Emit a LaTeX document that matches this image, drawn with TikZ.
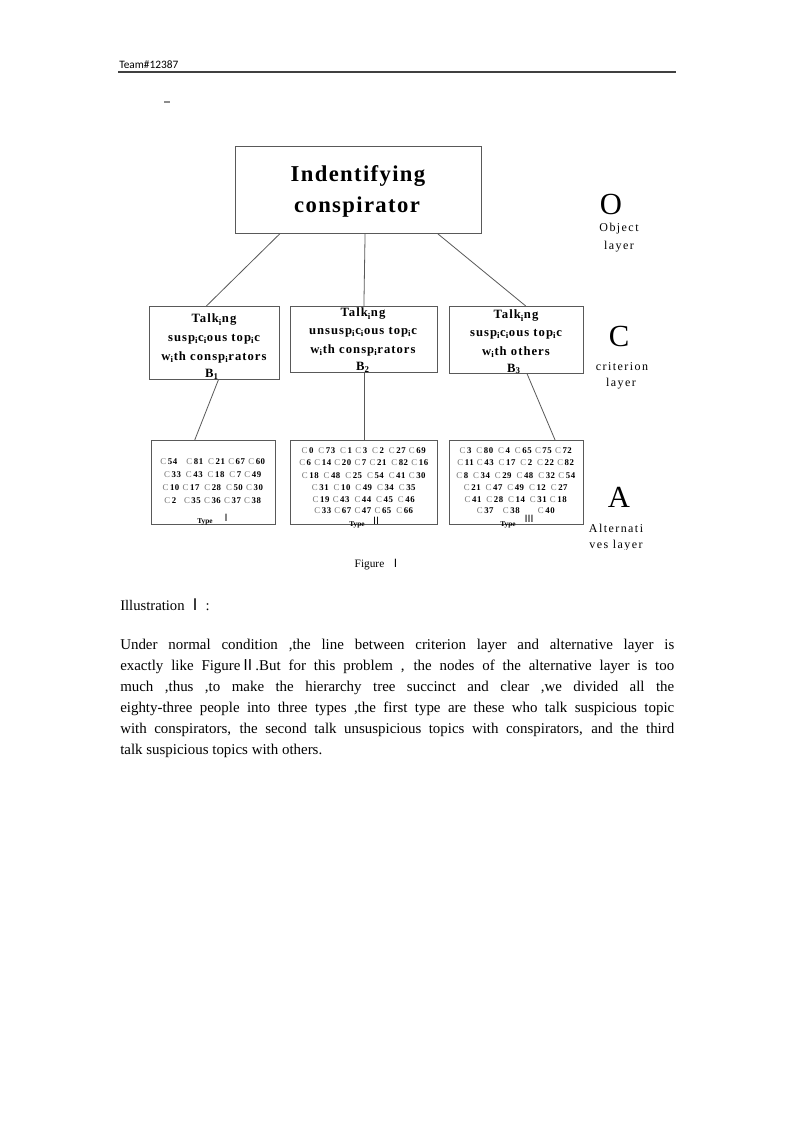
\documentclass[tikz,border=0pt]{standalone}
\usepackage{fontspec}
\setmainfont{Liberation Serif}
\newfontfamily\cjk{Noto Sans CJK SC}
\newfontfamily\hdrfont{Carlito}
\newfontfamily\spfont{Liberation Serif}[LetterSpace=12]
\newfontfamily\bfsp{Liberation Serif Bold}[LetterSpace=8]
\newfontfamily\ttlfont{Liberation Serif Bold}[LetterSpace=6]
\newfontfamily\cfont{Liberation Serif}[LetterSpace=6]
\newcommand\sbi{\textsubscript{i}}
\newcommand\cn[1]{{\color{black!55}C}\kern1.2pt\textbf{#1}}
\begin{document}
\begin{tikzpicture}[x=0.75pt,y=-0.75pt,
  box/.style={draw=black!65, line width=0.6pt, inner sep=0, anchor=north west},
  conn/.style={draw=black!65, line width=0.6pt},
  lbl/.style={inner sep=0, anchor=center},
  btxt/.style={inner sep=0, anchor=center, font=\bfsp\fontsize{9.5}{10}\selectfont},
  crow/.style={inner sep=0, anchor=center, font=\cfont\fontsize{6.6}{7}\selectfont},
  typ/.style={inner sep=0, anchor=center, font=\bfseries\fontsize{5.5}{6}\selectfont},
  typn/.style={inner sep=0, anchor=center, font=\cjk\fontsize{7.5}{8}\selectfont},
  layer/.style={inner sep=0, anchor=center, font=\spfont\fontsize{9}{10}\selectfont},
  big/.style={inner sep=0, anchor=center, font=\fontsize{23}{24}\selectfont}]
\fill[white] (0,0) rectangle (794,1123);
\useasboundingbox (0,0) rectangle (794,1123);

% header
\node[inner sep=0, anchor=west, font=\hdrfont\fontsize{8.5}{9}\selectfont] (hdr) at (119,65) {Team\#12387};
\coordinate (hl) at (118,72);
\coordinate (hr) at (676,72);
\draw[black!75, line width=1pt] (hl) -- (hr);
\coordinate (dl) at (164,102);
\coordinate (dr) at (170,102);
\draw[black!45, line width=0.8pt] (dl) -- (dr);

% boxes
\node[box, minimum width=184.5pt, minimum height=65.25pt] (top) at (235,146) {};
\node[box, minimum width=97.5pt, minimum height=54.75pt] (b1) at (149,306) {};
\node[box, minimum width=110.25pt, minimum height=49.5pt] (b2) at (290,306) {};
\node[box, minimum width=100.5pt, minimum height=50.25pt] (b3) at (449,306) {};
\node[box, minimum width=93pt, minimum height=63pt] (a1) at (151,440) {};
\node[box, minimum width=110.25pt, minimum height=63pt] (a2) at (290,440) {};
\node[box, minimum width=100.5pt, minimum height=63pt] (a3) at (449,440) {};

% top text
\node[lbl, font=\ttlfont\fontsize{17}{18}\selectfont] (t1) at (358,176) {Indentifying};
\node[lbl, font=\ttlfont\fontsize{17}{18}\selectfont] (t2) at (357,207) {conspirator};

% B1 text
\node[btxt] (b1l1) at (214,320) {Talk\sbi ng};
\node[btxt] (b1l2) at (214,339) {susp\sbi c\sbi ous top\sbi c};
\node[btxt] (b1l3) at (214,357) {w\sbi th consp\sbi rators};
\node[btxt] (b1l4) at (212,374) {B\textsubscript{1}};
% B2 text
\node[btxt] (b2l1) at (363,314) {Talk\sbi ng};
\node[btxt] (b2l2) at (363,332) {unsusp\sbi c\sbi ous top\sbi c};
\node[btxt] (b2l3) at (363,350) {w\sbi th consp\sbi rators};
\node[btxt] (b2l4) at (363,367) {B\textsubscript{2}};
% B3 text
\node[btxt] (b3l1) at (516,316) {Talk\sbi ng};
\node[btxt] (b3l2) at (516,334) {susp\sbi c\sbi ous top\sbi c};
\node[btxt] (b3l3) at (516,352) {w\sbi th others};
\node[btxt] (b3l4) at (514,369) {B\textsubscript{3}};

% connectors
\draw[conn] (b1.north east |- top.south) -- ([xshift=-6]b1.north);
\draw[conn] ([xshift=5]top.south) -- (b2.north);
\draw[conn] (b2.north east |- top.south) -- ([xshift=7]b3.north);
\draw[conn] ([xshift=3]b1.south) -- ([xshift=-14]a1.north);
\draw[conn] (b2.south) -- (a2.north);
\draw[conn] ([xshift=8]b3.south) -- ([xshift=29]a3.north);

% A1 rows
\node[crow] (a1r1) at (213,462) {\cn{54}\quad\cn{81}\enspace\cn{21}\ \cn{67}\ \cn{60}};
\node[crow] (a1r2) at (213,475) {\cn{33}\enspace\cn{43}\enspace\cn{18}\enspace\cn{7}\ \cn{49}};
\node[crow] (a1r3) at (213,488) {\cn{10}\ \cn{17}\enspace\cn{28}\enspace\cn{50}\ \cn{30}};
\node[crow] (a1r4) at (213,501) {\cn{2}\enspace\ \cn{35}\ \cn{36}\ \cn{37}\ \cn{38}};
\node[typ] (a1t) at (205,522) {Type};
\node[typn] (a1n) at (226,518) {Ⅰ};
% A2 rows
\node[crow] (a2r1) at (364,451) {\cn{0}\enspace\cn{73}\enspace\cn{1}\ \cn{3}\enspace\cn{2}\enspace\cn{27}\ \cn{69}};
\node[crow] (a2r2) at (364,463) {\cn{6}\ \cn{14}\ \cn{20}\ \cn{7}\ \cn{21}\enspace\cn{82}\ \cn{16}};
\node[crow] (a2r3) at (364,476) {\cn{18}\enspace\cn{48}\enspace\cn{25}\enspace\cn{54}\enspace\cn{41}\ \cn{30}};
\node[crow] (a2r4) at (364,488) {\cn{31}\enspace\cn{10}\enspace\cn{49}\enspace\cn{34}\enspace\cn{35}};
\node[crow] (a2r5) at (364,500) {\cn{19}\ \cn{43}\enspace\cn{44}\enspace\cn{45}\enspace\cn{46}};
\node[crow] (a2r6) at (364,511) {\cn{33}\ \cn{67}\ \cn{47}\ \cn{65}\enspace\cn{66}};
\node[typ] (a2t) at (357,525) {Type};
\node[typn] (a2n) at (376,521) {Ⅱ};
% A3 rows
\node[crow] (a3r1) at (516,451) {\cn{3}\enspace\cn{80}\enspace\cn{4}\enspace\cn{65}\ \cn{75}\ \cn{72}};
\node[crow] (a3r2) at (516,463) {\cn{11}\ \cn{43}\enspace\cn{17}\enspace\cn{2}\enspace\cn{22}\ \cn{82}};
\node[crow] (a3r3) at (516,476) {\cn{8}\enspace\cn{34}\enspace\cn{29}\enspace\cn{48}\enspace\cn{32}\ \cn{54}};
\node[crow] (a3r4) at (516,488) {\cn{21}\enspace\cn{47}\enspace\cn{49}\enspace\cn{12}\enspace\cn{27}};
\node[crow] (a3r5) at (516,500) {\cn{41}\enspace\cn{28}\enspace\cn{14}\enspace\cn{31}\ \cn{18}};
\node[crow] (a3r6) at (516,511) {\cn{37}\quad\cn{38}\qquad\cn{40}};
\node[typ] (a3t) at (508,525) {Type};
\node[typn] (a3n) at (529,519) {Ⅲ};

% right layer labels
\node[big] (lo) at (611,204) {O};
\node[layer] (lo1) at (619,229) {Object};
\node[layer] (lo2) at (619,247) {layer};
\node[big] (lc) at (619,336) {C};
\node[layer] (lc1) at (622,367) {criterion};
\node[layer] (lc2) at (621,384) {layer};
\node[big] (la) at (619,497) {A};
\node[layer] (la1) at (616,528) {Alternati};
\begin{scope}
\clip (570,536) rectangle (670,549);
\node[layer] (la2) at (616,546) {ves layer};
\end{scope}

% caption
\node[inner sep=0, anchor=center, font=\fontsize{8.5}{9}\selectfont] (cap) at (378,565) {Figure\enspace{\cjk Ⅰ}};

% illustration
\node[inner sep=0, anchor=west, font=\fontsize{11}{12}\selectfont] (ill) at (120,605) {Illustration\,{\cjk\fontsize{12}{12}\selectfont Ⅰ}\,:};

\node[inner sep=0, anchor=north west, text width=415.5pt, align=justify,
  font=\fontsize{11.2}{15.75}\selectfont] (para) at (120,639) {%
Under normal condition ,the line between criterion layer and alternative layer is\linebreak
exactly like Figure{\cjk Ⅱ}.But for this problem , the nodes of the alternative layer is too\linebreak
much ,thus ,to make the hierarchy tree succinct and clear ,we divided all the\linebreak
eighty-three people into three types ,the first type are these who talk suspicious topic\linebreak
with conspirators, the second talk unsuspicious topics with conspirators, and the third\linebreak
talk suspicious topics with others.};
\end{tikzpicture}
\end{document}
